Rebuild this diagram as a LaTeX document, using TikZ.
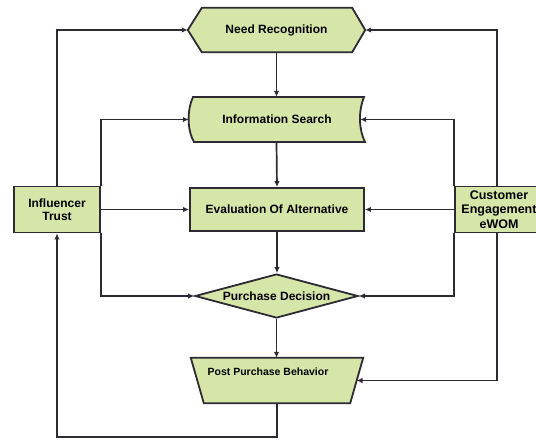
\documentclass[tikz,border=0pt]{standalone}
\usepackage{fontspec}
\setmainfont{Liberation Sans}
\usetikzlibrary{arrows.meta,shapes.geometric}
\definecolor{boxg}{RGB}{214,229,168}
\definecolor{linec}{RGB}{45,42,52}
\begin{document}
\begin{tikzpicture}[x=1pt,y=-1pt,
  shp/.style={draw=linec, line width=1.8pt, fill=boxg},
  ghost/.style={rectangle, inner sep=0pt, draw=none},
  lbl/.style={font=\bfseries\fontsize{12}{14}\selectfont, text=black, align=center, inner sep=0pt},
  conn/.style={draw=linec, line width=1.7pt},
  arr/.style={conn, -{Latex[length=6pt,width=5.5pt]}}
]
\useasboundingbox (0,0) rectangle (536,440);
\fill[white] (0,0) rectangle (536,440);

% Need Recognition (hexagon)
\node[ghost, minimum width=177pt, minimum height=44pt] (nr) at (276.5,30) {};
\draw[shp] (nr.west) -- ([xshift=14pt]nr.north west) -- ([xshift=-13pt]nr.north east) -- (nr.east)
  -- ([xshift=-13pt]nr.south east) -- ([xshift=14pt]nr.south west) -- cycle;
\node[lbl] (nrt) at (nr) {Need Recognition};

% Information Search (wavy sides)
\node[ghost, minimum width=171pt, minimum height=45pt] (is) at (274.5,119.5) {};
\draw[shp] (193,97) -- (364,97) .. controls (358,112) and (359,130) .. (365,142)
  -- (194,142) .. controls (187,130) and (187,110) .. (193,97) -- cycle;
\node[lbl] (ist) at (277,119.5) {Information Search};

% Evaluation Of Alternative
\node[shp, rectangle, minimum width=174pt, minimum height=43pt, lbl] (ev) at (277,209.5) {Evaluation Of Alternative};

% Purchase Decision (diamond)
\node[shp, diamond, aspect=3.7, inner sep=0pt, minimum width=163pt, minimum height=44pt, lbl] (pd) at (276.5,296) {Purchase Decision};

% Post Purchase Behavior (trapezium)
\node[ghost, minimum width=172pt, minimum height=45pt] (pp) at (277,380.5) {};
\draw[shp] (pp.north west) -- (pp.north east) -- ([xshift=-13pt]pp.south east) -- ([xshift=13pt]pp.south west) -- cycle;
\node[lbl, font=\bfseries\fontsize{10.5}{12}\selectfont] (ppt) at (268,372) {Post Purchase Behavior};
\coordinate (ppe) at (356.5,380.5);

% Influencer Trust
\node[shp, rectangle, minimum width=86pt, minimum height=46pt, lbl, font=\bfseries\fontsize{12}{13.5}\selectfont] (it) at (57,209.5) {Influencer\\Trust};

% Customer Engagement eWOM (runs past the right edge)
\node[shp, rectangle, minimum width=92pt, minimum height=46pt] (ce) at (501,209.5) {};
\node[lbl, font=\bfseries\fontsize{12.5}{14.5}\selectfont] (cet) at (499,209.5) {Customer\\Engagement\\eWOM};
\coordinate (cetop) at (497,186.5);
\coordinate (cebot) at (497,232.5);

% main flow
\draw[arr] (nr.south) -- (nr.south |- is.north);
\draw[arr] (nr.south |- is.south) -- (ev.north);
\draw[arr] (ev.south) -- (ev.south |- pd.north);
\draw[arr] (pd.south) -- (pd.south |- pp.north);
\draw[arr] (pp.south) -- ++(0,34) -| (it.south);

% left feedback
\draw[arr] (it.north) |- (nr.west);
\draw[arr] (it.north east) |- (is.west);
\draw[arr] (it.east) -- (ev.west);
\draw[arr] (it.south east) |- (pd.west);

% right feedback
\draw[arr] (cetop) |- (nr.east);
\draw[arr] (ce.north west) |- (is.east);
\draw[arr] (ce.west) -- (ev.east);
\draw[arr] (ce.south west) |- (pd.east);
\draw[arr] (cebot) |- (ppe);
\end{tikzpicture}
\end{document}
